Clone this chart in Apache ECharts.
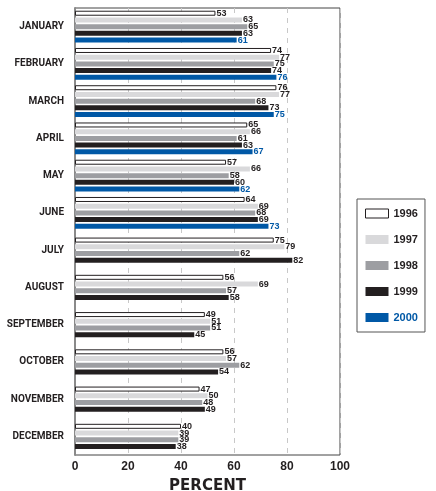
<!DOCTYPE html>
<html>
<head>
<meta charset="utf-8">
<script src="https://cdn.jsdelivr.net/npm/echarts@6/dist/echarts.min.js"></script>
<style>
  html, body { margin: 0; padding: 0; background: #fff; }
  #chart { width: 436px; height: 491px; }
</style>
</head>
<body>
<div id="chart"></div>
<script>
// months, top to bottom
const months = ['JANUARY', 'FEBRUARY', 'MARCH', 'APRIL', 'MAY', 'JUNE',
  'JULY', 'AUGUST', 'SEPTEMBER', 'OCTOBER', 'NOVEMBER', 'DECEMBER']
const years = ['1996', '1997', '1998', '1999', '2000']

const v1996 = [53, 74, 76, 65, 57, 64, 75, 56, 49, 56, 47, 40]
const v1997 = [63, 77, 77, 66, 66, 69, 79, 69, 51, 57, 50, 39]
const v1998 = [65, 75, 68, 61, 58, 68, 62, 57, 51, 62, 48, 39]
const v1999 = [63, 74, 73, 63, 60, 69, 82, 58, 45, 54, 49, 38]
const v2000 = [61, 76, 75, 67, 62, 73, null, null, null, null, null, null]

const xTicks = [0, 20, 40, 60, 80, 100]

const values = [v1996, v1997, v1998, v1999, v2000]
const fills = ['#ffffff', '#d9d9db', '#9d9ea2', '#231f20', '#0058a6']
const dark = '#231f20'
const blue = '#0058a6'

// months with 5 bars go on axis 0, months with 4 bars on axis 1 so each group stays centred
function split(arr, axis) {
  return arr.map((v, i) => {
    const fiveBars = v2000[i] !== null
    return (axis === 0) === fiveBars ? v : null
  })
}

const series = []
;[0, 1].forEach(axis => {
  years.forEach((y, k) => {
    if (axis === 1 && k === 4) return
    series.push({
      name: y,
      type: 'bar',
      yAxisIndex: axis,
      data: split(values[k], axis),
      barWidth: 5,
      barGap: '34%',
      itemStyle: {
        color: fills[k],
        borderColor: k === 0 ? dark : fills[k],
        borderWidth: k === 0 ? 1 : 0
      },
      label: {
        show: true,
        position: 'right',
        distance: 1,
        fontFamily: 'Liberation Sans',
        fontWeight: 'bold',
        fontSize: 9,
        color: k === 4 ? blue : dark
      },
      animation: false
    })
  })
})

const catAxis = (show) => ({
  type: 'category',
  data: months,
  inverse: true,
  show: show,
  axisLine: { show: true, lineStyle: { color: '#8a8a8a', width: 2 } },
  axisTick: { show: false },
  axisLabel: {
    margin: 11,
    fontFamily: 'Roboto',
    fontWeight: 'bold',
    fontSize: 10,
    color: dark
  }
})

const chart = echarts.init(document.getElementById('chart'))
chart.setOption({
  animation: false,
  grid: {
    left: 75, right: 96, top: 8, bottom: 36,
    outerBoundsMode: 'none',
    containLabel: false,
    show: true, borderColor: '#444', borderWidth: 1
  },
  legend: {
    orient: 'vertical',
    left: 357, top: 199,
    data: years.map(y => y === '2000'
      ? { name: y, textStyle: { color: blue } }
      : { name: y, itemStyle: y === '1996' ? { borderWidth: 1 } : {} }),
    icon: 'rect',
    itemWidth: 23, itemHeight: 9, itemGap: 15,
    padding: [9, 7, 9, 8],
    borderColor: '#555', borderWidth: 1,
    selectedMode: false,
    textStyle: { fontFamily: 'Liberation Sans', fontWeight: 'bold', fontSize: 11, color: dark }
  },
  xAxis: {
    type: 'value',
    min: xTicks[0],
    max: xTicks[xTicks.length - 1],
    interval: 20,
    name: 'PERCENT',
    nameLocation: 'middle',
    nameGap: 24,
    nameTextStyle: { fontFamily: 'DejaVu Sans', fontWeight: 'bold', fontSize: 15, color: dark },
    axisLine: { show: false },
    axisTick: { show: false },
    splitLine: { show: true, lineStyle: { color: '#c8c8c8', type: [5, 5] } },
    axisLabel: {
      margin: 6,
      fontFamily: 'Liberation Sans',
      fontWeight: 'bold',
      fontSize: 12,
      color: dark
    }
  },
  yAxis: [catAxis(true), catAxis(false)],
  series: series
})
</script>
</body>
</html>
